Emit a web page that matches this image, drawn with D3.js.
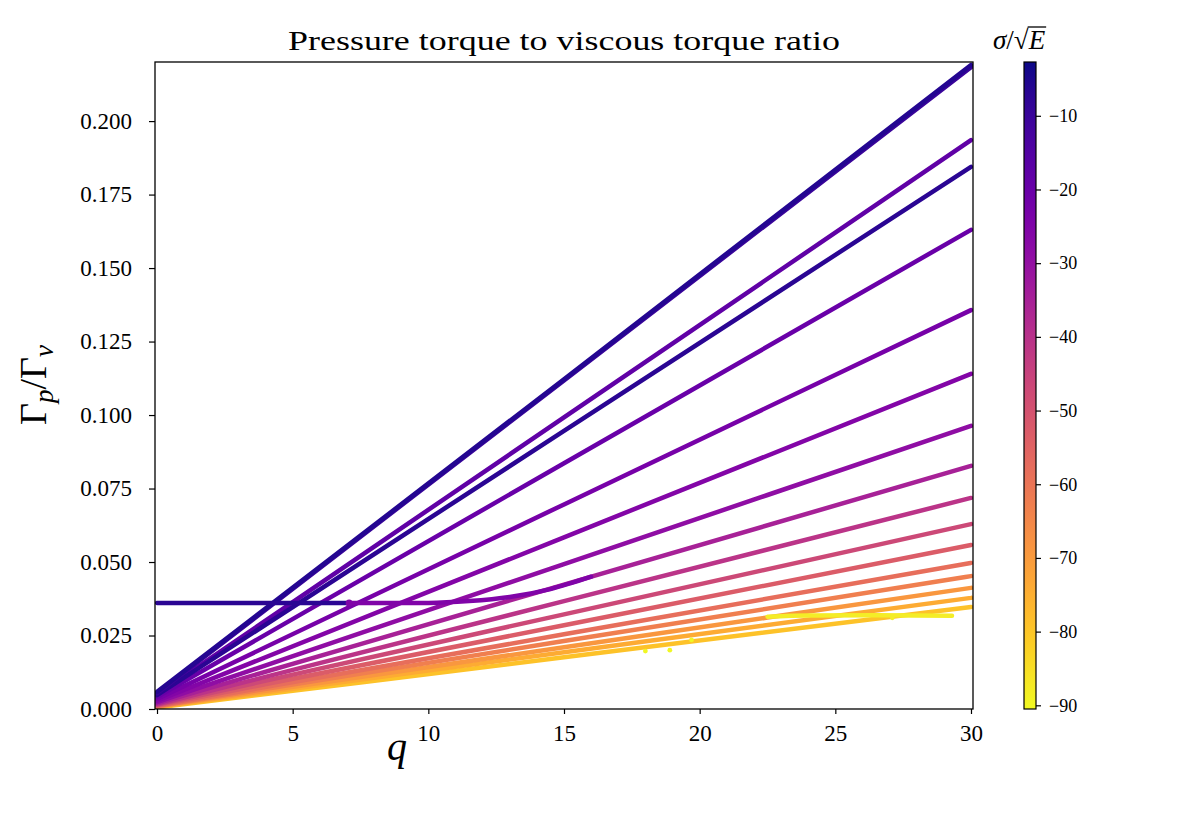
<!DOCTYPE html>
<html lang="en">
<head>
<meta charset="UTF-8">
<title>Pressure torque to viscous torque ratio</title>
<style>
  body { margin: 0; background: #fff; }
  text { font-family: "Liberation Serif", "DejaVu Serif", serif; fill: #000; }
  .tick text { font-stretch: condensed; }
</style>
</head>
<body>
<div id="chart-container"></div>
<script src="https://d3js.org/d3.v7.min.js"></script>
<script>
// ---- data ----
const qTicks = [0, 5, 10, 15, 20, 25, 30];
const ratioTicks = [0, 0.025, 0.05, 0.075, 0.1, 0.125, 0.15, 0.175, 0.2];
const sigmaTicks = [-10, -20, -30, -40, -50, -60, -70, -80, -90];
const sigmaRange = [-90.5, -2.7];

// one entry per branch: sigma/sqrt(E) and knots [q, Gamma_p/Gamma_nu]
const branchSigma = [-79, -74, -69, -63, -58, -53, -47, -41, -35, -29, -26, -23, -20, -18, -7, -10, -6, -88, -7, -25];
const branchKnots = [
  [[0, 0.0005], [15, 0.0176], [30, 0.0347]],
  [[0, 0.0007], [15, 0.0193], [30, 0.0378]],
  [[0, 0.0008], [15, 0.0210], [30, 0.0412]],
  [[0, 0.0009], [15, 0.0231], [30, 0.0452]],
  [[0, 0.0010], [15, 0.0254], [30, 0.0497]],
  [[0, 0.0012], [15, 0.0285], [30, 0.0558]],
  [[0, 0.0014], [15, 0.0322], [30, 0.0629]],
  [[0, 0.0016], [15, 0.0367], [30, 0.0718]],
  [[0, 0.0019], [15, 0.0423], [30, 0.0827]],
  [[0, 0.0023], [15, 0.0493], [30, 0.0963]],
  [[0, 0.0028], [15, 0.0584], [30, 0.1140]],
  [[0, 0.0034], [15, 0.0696], [30, 0.1357]],
  [[0, 0.0041], [15, 0.0836], [30, 0.1630]],
  [[0, 0.0049], [15, 0.0992], [30, 0.1935]],
  [[0, 0.0047], [15, 0.0946], [30, 0.1844]],
  [[0, 0.0054], [15, 0.1118], [30, 0.2183]],
  [[0, 0.0058], [15, 0.1122], [30, 0.2191]],
  [[22.5, 0.0314], [24, 0.0318], [26.5, 0.0319], [29.3, 0.0317]],
  [[0, 0.0361], [3.5, 0.0361], [7, 0.0361]],
  [[7.1, 0.0361], [10, 0.0361], [11.5, 0.0367], [13, 0.0381], [14.5, 0.0408], [16, 0.0450]]
];

// isolated points
const strayQ = [18.0, 18.9, 19.7, 27.1, 7.08];
const strayRatio = [0.0197, 0.0200, 0.0235, 0.0310, 0.0361];
const straySigma = [-90, -90, -90, -88, -25];

function init() {
  const W = 1200, H = 825;
  const plot = { left: 155, top: 62, right: 973, bottom: 709 };

  const svg = d3.select("#chart-container")
    .append("svg")
    .attr("width", W)
    .attr("height", H);

  const x = d3.scaleLinear().domain([-0.074, 30.074]).range([plot.left, plot.right]);
  const y = d3.scaleLinear().domain([0, 0.2201]).range([plot.bottom, plot.top]);
  const color = d3.scaleSequential(t => d3.interpolatePlasma(1 - t)).domain(sigmaRange);

  svg.append("clipPath").attr("id", "clip")
    .append("rect")
    .attr("x", plot.left).attr("y", plot.top)
    .attr("width", plot.right - plot.left).attr("height", plot.bottom - plot.top);

  const line = d3.line()
    .x(d => x(d[0]))
    .y(d => y(d[1]))
    .curve(d3.curveMonotoneX);

  const g = svg.append("g").attr("clip-path", "url(#clip)");

  branchKnots.forEach((knots, i) => {
    g.append("path")
      .attr("d", line(knots))
      .attr("fill", "none")
      .attr("stroke", color(branchSigma[i]))
      .attr("stroke-width", 4.5)
      .attr("stroke-linecap", "round");
  });

  g.selectAll("circle.stray")
    .data(strayQ)
    .enter().append("circle")
    .attr("class", "stray")
    .attr("cx", (d, i) => x(d))
    .attr("cy", (d, i) => y(strayRatio[i]))
    .attr("r", (d, i) => i == 4 ? 3.5 : 2.4)
    .attr("fill", (d, i) => color(straySigma[i]));

  // x axis
  const xAxis = svg.append("g")
    .attr("transform", "translate(0," + plot.bottom + ")")
    .call(d3.axisBottom(x).tickValues(qTicks).tickFormat(d3.format("d")).tickSize(5).tickPadding(11));
  xAxis.select(".domain").remove();
  xAxis.selectAll("line").attr("stroke", "#000").attr("stroke-width", 1.2);
  xAxis.selectAll("text").style("font-size", "23px").style("font-family", null).attr("fill", "#000");

  // y axis
  const yAxis = svg.append("g")
    .attr("transform", "translate(" + plot.left + ",0)")
    .call(d3.axisLeft(y).tickValues(ratioTicks).tickFormat(d3.format(".3f")).tickSize(6).tickPadding(17));
  yAxis.select(".domain").remove();
  yAxis.selectAll("line").attr("stroke", "#000").attr("stroke-width", 1.2);
  yAxis.selectAll("text").style("font-size", "23px").style("font-family", null).attr("fill", "#000");
  yAxis.attr("font-family", null);
  xAxis.attr("font-family", null);

  // frame
  svg.append("rect")
    .attr("x", plot.left).attr("y", plot.top)
    .attr("width", plot.right - plot.left).attr("height", plot.bottom - plot.top)
    .attr("fill", "none").attr("stroke", "#000").attr("stroke-width", 1.3);

  // title
  svg.append("text")
    .attr("x", (plot.left + plot.right) / 2)
    .attr("y", 50)
    .attr("text-anchor", "middle")
    .attr("textLength", 552)
    .attr("lengthAdjust", "spacingAndGlyphs")
    .style("font-size", "28px")
    .text("Pressure torque to viscous torque ratio");

  // x label
  svg.append("text")
    .attr("x", 397)
    .attr("y", 760)
    .attr("text-anchor", "middle")
    .style("font-size", "40px")
    .style("font-style", "italic")
    .text("q");

  // y label
  const yl = svg.append("text")
    .attr("transform", "translate(46,385) rotate(-90)")
    .attr("text-anchor", "middle")
    .style("font-size", "38px");
  yl.append("tspan").text("Γ");
  yl.append("tspan").attr("baseline-shift", "-25%").style("font-size", "27px").style("font-style", "italic").text("p");
  yl.append("tspan").text("/Γ");
  yl.append("tspan").attr("baseline-shift", "-25%").style("font-size", "27px").style("font-style", "italic").text("ν");

  // colorbar
  const cb = { x: 1024, w: 12 };
  const s = d3.scaleLinear().domain(sigmaRange).range([plot.bottom, plot.top]);
  const grad = svg.append("defs").append("linearGradient")
    .attr("id", "cbgrad").attr("x1", 0).attr("y1", 1).attr("x2", 0).attr("y2", 0);
  d3.range(0, 1.0001, 0.05).forEach(t => {
    grad.append("stop").attr("offset", t).attr("stop-color", d3.interpolatePlasma(1 - t));
  });
  svg.append("rect")
    .attr("x", cb.x).attr("y", plot.top)
    .attr("width", cb.w).attr("height", plot.bottom - plot.top)
    .attr("fill", "url(#cbgrad)")
    .attr("stroke", "#000").attr("stroke-width", 1.2);

  const cAxis = svg.append("g")
    .attr("transform", "translate(" + (cb.x + cb.w) + ",0)")
    .attr("font-family", null)
    .call(d3.axisRight(s).tickValues(sigmaTicks).tickSize(5).tickPadding(8));
  cAxis.attr("font-family", null);
  cAxis.select(".domain").remove();
  cAxis.selectAll("line").attr("stroke", "#000").attr("stroke-width", 1.2);
  cAxis.selectAll("text").style("font-size", "18px").attr("fill", "#000");

  // colorbar label sigma / sqrt(E)
  const lab = svg.append("text")
    .attr("x", 993).attr("y", 49)
    .style("font-size", "27px");
  lab.append("tspan").style("font-style", "italic").text("σ");
  lab.append("tspan").text("/√");
  const labW = lab.node().getComputedTextLength();
  const eText = svg.append("text")
    .attr("x", 993 + labW).attr("y", 49)
    .style("font-size", "27px").style("font-style", "italic")
    .text("E");
  const eW = eText.node().getComputedTextLength();
  svg.append("line")
    .attr("x1", 993 + labW - 1).attr("x2", 993 + labW + eW + 1)
    .attr("y1", 27).attr("y2", 27)
    .attr("stroke", "#000").attr("stroke-width", 1.3);
}
init();
</script>
</body>
</html>
